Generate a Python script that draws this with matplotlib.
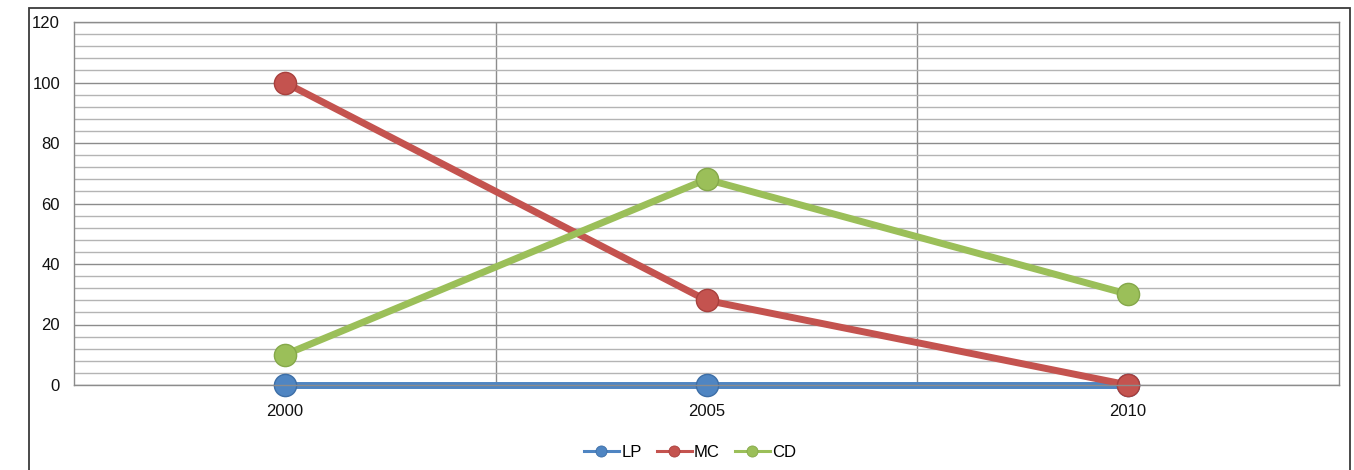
import matplotlib.pyplot as plt
from matplotlib.patches import Rectangle
from matplotlib.lines import Line2D
from matplotlib.ticker import MultipleLocator

plt.rcParams['font.family'] = ['Liberation Sans', 'DejaVu Sans']

years = ['2000', '2005', '2010']
lp = [0, 0, 0]
mc = [100, 28, 0]
cd = [10, 68, 30]

series = [
    ('LP', lp, '#4f85c2', '#3d6ea6'),
    ('MC', mc, '#c4534f', '#a8403d'),
    ('CD', cd, '#9bbf59', '#85a84a'),
]

fig = plt.figure(figsize=(13.54, 4.70), dpi=100)
ax = fig.add_axes([74 / 1354, 1 - 385 / 470, 1265 / 1354, 363 / 470])

# outer chart border
fig.patches.append(Rectangle((29 / 1354, -0.1), 1321 / 1354, 1.1 - 8 / 470,
                             transform=fig.transFigure, fill=False,
                             edgecolor='#3a3a3a', linewidth=1.3, zorder=0))

x = list(range(len(years)))
handles = []
for name, vals, color, edge in series:
    ax.plot(x, vals, color=color, linewidth=5, marker='o', markersize=16,
            markerfacecolor=color, markeredgecolor=edge, markeredgewidth=1.0,
            clip_on=False, solid_capstyle='butt')
    handles.append(Line2D([], [], color=color, linewidth=2.2, marker='o',
                          markersize=8, markerfacecolor=color,
                          markeredgecolor=edge, markeredgewidth=0.6, label=name))

ax.set_xlim(-0.5, 2.5)
ax.set_ylim(0, 120)
ax.set_xticks(x)
ax.set_xticklabels(years)
ax.yaxis.set_major_locator(MultipleLocator(20))
ax.yaxis.set_minor_locator(MultipleLocator(4))
ax.set_xticks([0.5, 1.5], minor=True)

ax.grid(which='major', axis='y', color='#8c8c8c', linewidth=1.0)
ax.grid(which='minor', axis='y', color='#b4b4b4', linewidth=1.0)
ax.grid(which='minor', axis='x', color='#8c8c8c', linewidth=1.0)
ax.set_axisbelow(True)

ax.tick_params(axis='both', which='both', length=0, labelsize=12, colors='#111111')
ax.tick_params(axis='x', pad=14)
ax.tick_params(axis='y', pad=10)
for s in ax.spines.values():
    s.set_color('#8c8c8c')
    s.set_linewidth(1.0)

ax.legend(handles=handles, loc='center', bbox_to_anchor=(0.487, -0.185), ncol=3,
          frameon=False, fontsize=12, handlelength=2.1, handletextpad=0.15,
          columnspacing=0.9)

fig.savefig('out.png', dpi=100)
